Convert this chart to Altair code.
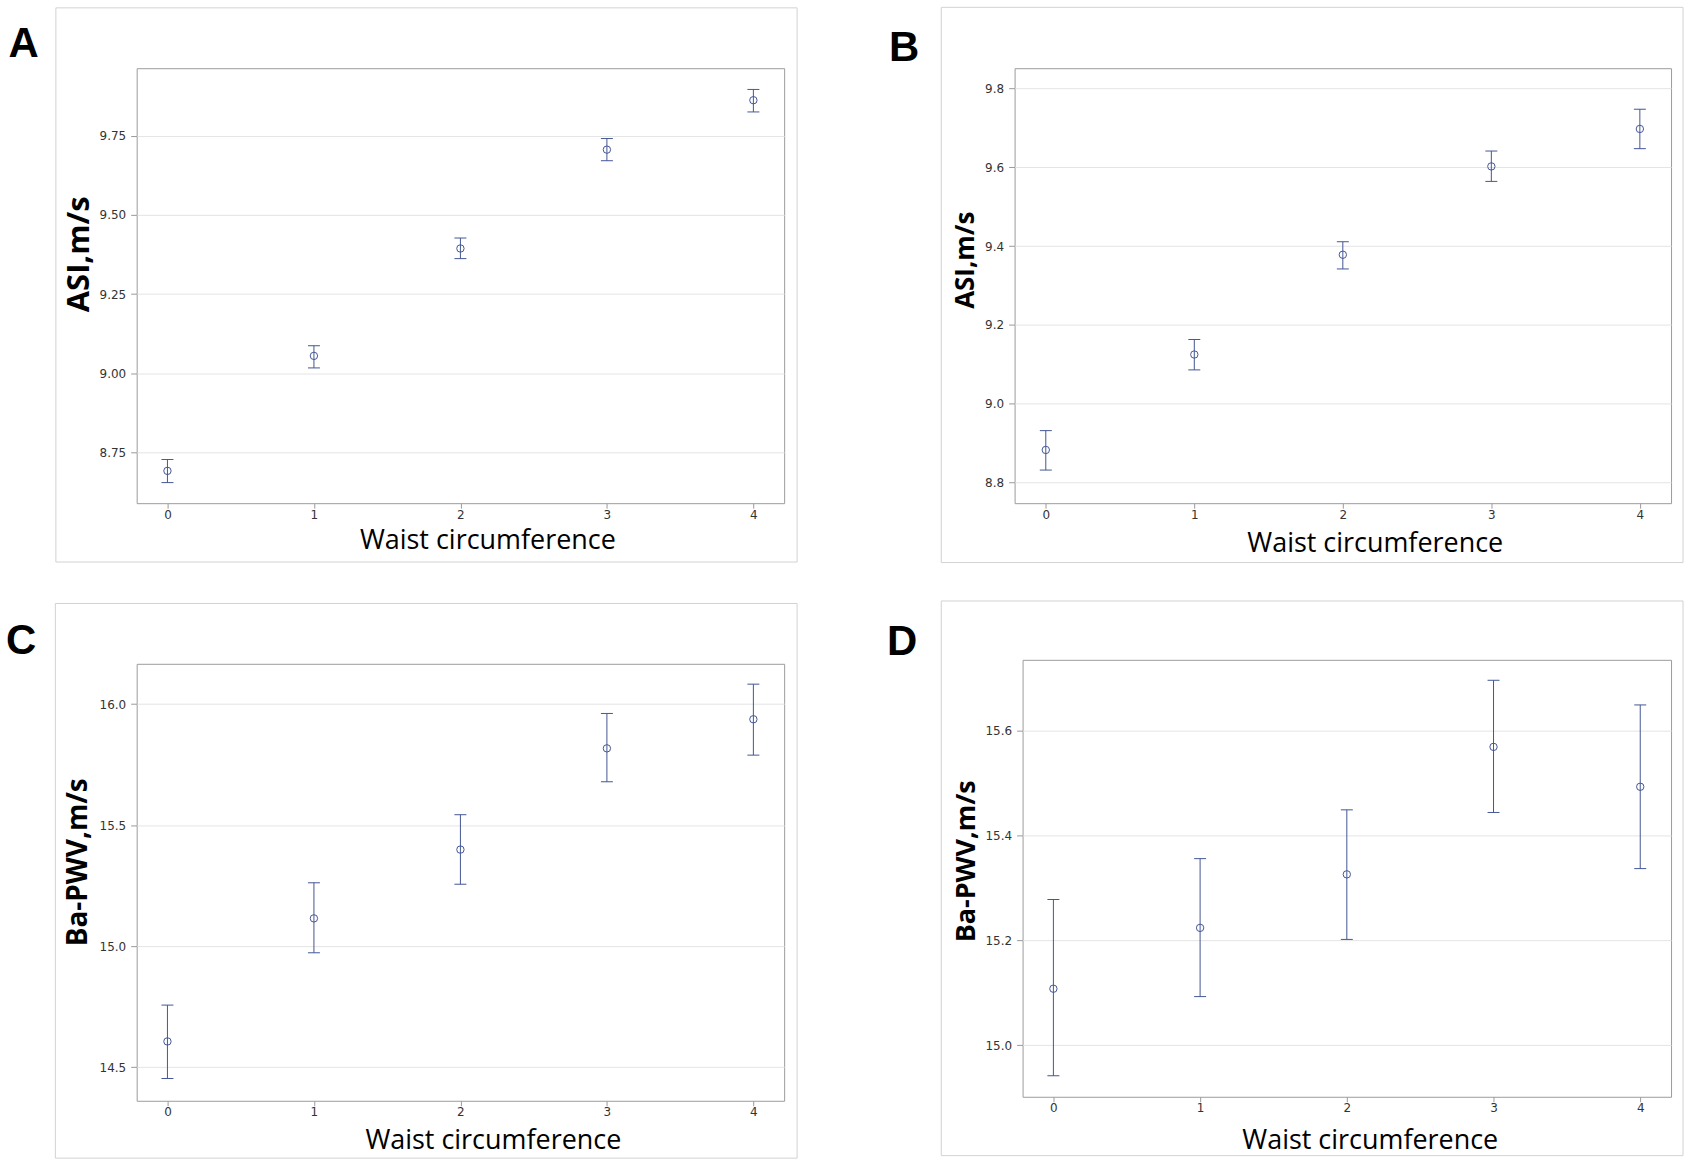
import altair as alt
import pandas as pd

# ---------------- data ----------------
groups = [0, 1, 2, 3, 4]

asi_a_mean = [8.692, 9.055, 9.394, 9.706, 9.862]
asi_a_lower = [8.655, 9.017, 9.362, 9.671, 9.825]
asi_a_upper = [8.728, 9.087, 9.427, 9.741, 9.896]

asi_b_mean = [8.883, 9.125, 9.378, 9.602, 9.697]
asi_b_lower = [8.832, 9.086, 9.342, 9.564, 9.647]
asi_b_upper = [8.932, 9.163, 9.411, 9.641, 9.747]

pwv_c_mean = [14.607, 15.115, 15.399, 15.817, 15.937]
pwv_c_lower = [14.454, 14.973, 15.256, 15.679, 15.789]
pwv_c_upper = [14.757, 15.262, 15.543, 15.961, 16.082]

pwv_d_mean = [15.108, 15.224, 15.326, 15.569, 15.493]
pwv_d_lower = [14.942, 15.093, 15.202, 15.444, 15.337]
pwv_d_upper = [15.278, 15.356, 15.449, 15.696, 15.649]

ticks_a = [8.75, 9.00, 9.25, 9.50, 9.75]
ticks_b = [8.8, 9.0, 9.2, 9.4, 9.6, 9.8]
ticks_c = [14.5, 15.0, 15.5, 16.0]
ticks_d = [15.0, 15.2, 15.4, 15.6]

x_title = "Waist circumference"
y_title_asi = "ASI,m/s"
y_title_pwv = "Ba-PWV,m/s"

COLOR = "#445694"
TICK_FONT = "DejaVu Sans"
TITLE_FONT = "Open Sans"


def panel(letter, mean, lower, upper, ytitle, yticks, yfmt, ydomain,
          w, h, cell, box, letter_pos, ytitle_pos, ytitle_size, xtitle_pos):
    df = pd.DataFrame({"g": groups, "m": mean, "lo": lower, "hi": upper})
    one = pd.DataFrame({"k": [0]})

    xaxis = alt.Axis(
        values=groups, format="d", grid=False, domain=False,
        tickColor="#9a9a9a", tickSize=5, labelFlush=False,
        labelFont=TICK_FONT, labelFontSize=12, labelColor="#333333",
        labelPadding=1,
        title=x_title, titleFont=TITLE_FONT, titleFontSize=27,
        titleFontWeight="normal", titleColor="#000000",
        titleX=xtitle_pos[0], titleY=xtitle_pos[1], titleBaseline="middle",
    )
    yaxis = alt.Axis(
        values=yticks, format=yfmt, grid=True, gridColor="#e4e4e4",
        gridWidth=1, domain=False, tickColor="#9a9a9a", tickSize=6,
        labelFont=TICK_FONT, labelFontSize=12, labelColor="#333333",
        labelPadding=5, labelFlush=False,
        title=ytitle, titleFont=TITLE_FONT, titleFontSize=ytitle_size,
        titleFontWeight="bold", titleColor="#000000",
        titleX=ytitle_pos[0], titleY=ytitle_pos[1], titleBaseline="middle",
        titleAngle=270,
    )
    xs = alt.Scale(domain=[-0.21, 4.21], nice=False, zero=False)
    ys = alt.Scale(domain=ydomain, nice=False, zero=False)

    cell_layer = alt.Chart(one).mark_rect(opacity=0).encode(
        x=alt.value(cell[0]), x2=alt.value(cell[1]),
        y=alt.value(cell[2]), y2=alt.value(cell[3]),
    )
    box_layer = alt.Chart(one).mark_rect(
        fill="white", fillOpacity=0, stroke="#d2d2d2", strokeWidth=1
    ).encode(
        x=alt.value(box[0]), x2=alt.value(box[1]),
        y=alt.value(box[2]), y2=alt.value(box[3]),
    )
    letter_layer = alt.Chart(one).mark_text(
        text=letter, font="Liberation Sans", fontSize=42, fontWeight="bold",
        align="left", baseline="alphabetic", color="#000000",
    ).encode(x=alt.value(letter_pos[0]), y=alt.value(letter_pos[1]))

    xenc = alt.X("g:Q", scale=xs, axis=xaxis)
    rules = alt.Chart(df).mark_rule(color=COLOR, strokeWidth=1).encode(
        x=xenc,
        y=alt.Y("lo:Q", scale=ys, axis=yaxis),
        y2="hi:Q",
    )
    cap_lo = alt.Chart(df).mark_tick(
        orient="horizontal", size=12, thickness=1, color=COLOR, opacity=1
    ).encode(x=xenc, y=alt.Y("lo:Q", scale=ys, axis=yaxis))
    cap_hi = alt.Chart(df).mark_tick(
        orient="horizontal", size=12, thickness=1, color=COLOR, opacity=1
    ).encode(x=xenc, y=alt.Y("hi:Q", scale=ys, axis=yaxis))
    pts = alt.Chart(df).mark_point(
        shape="circle", filled=False, size=55, strokeWidth=1, color=COLOR,
        opacity=1,
    ).encode(x=xenc, y=alt.Y("m:Q", scale=ys, axis=yaxis))

    return alt.layer(
        cell_layer, box_layer, letter_layer, rules, cap_lo, cap_hi, pts
    ).properties(width=w, height=h)


pa = panel("A", asi_a_mean, asi_a_lower, asi_a_upper, y_title_asi, ticks_a,
           ".2f", [8.590, 9.963], 649, 436,
           cell=(-136, 709, -66, 517), box=(-81, 662, -60.5, 495),
           letter_pos=(-128.5, -11.5), ytitle_pos=(-57, 186), ytitle_size=31,
           xtitle_pos=(351.5, 37))
pb = panel("B", asi_b_mean, asi_b_lower, asi_b_upper, y_title_asi, ticks_b,
           ".1f", [8.748, 9.851], 658, 436,
           cell=(-169, 677, -66, 517), box=(-73.5, 670, -61, 495.5),
           letter_pos=(-126, -7), ytitle_pos=(-49.5, 192), ytitle_size=26,
           xtitle_pos=(361, 40.5))
pc = panel("C", pwv_c_mean, pwv_c_lower, pwv_c_upper, y_title_pwv, ticks_c,
           ".1f", [14.362, 16.166], 649, 438,
           cell=(-136, 709, -78, 499), box=(-81.5, 662, -60.5, 495.5),
           letter_pos=(-131, -10), ytitle_pos=(-58, 198.5), ytitle_size=28,
           xtitle_pos=(357, 40))
pd_ = panel("D", pwv_d_mean, pwv_d_lower, pwv_d_upper, y_title_pwv, ticks_d,
            ".1f", [14.902, 15.735], 650, 438,
            cell=(-177, 669, -74, 503), box=(-81.5, 662, -59, 497),
            letter_pos=(-136, -4.5), ytitle_pos=(-56, 201.5), ytitle_size=27,
            xtitle_pos=(348, 44))

chart = alt.concat(
    pa, pb, pc, pd_, columns=2, spacing=0, align="none", bounds="full"
).properties(
    padding={"left": 0, "top": 0, "right": 0, "bottom": 0},
    background="white",
).configure_view(stroke="#9c9c9c", strokeWidth=1)

chart.save("out.html", embed_options={"renderer": "svg", "actions": False})
